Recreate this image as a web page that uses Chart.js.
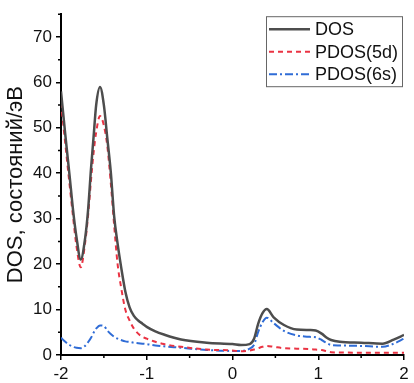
<!DOCTYPE html>
<html>
<head>
<meta charset="utf-8">
<script src="https://cdn.jsdelivr.net/npm/chart.js@4.4.1/dist/chart.umd.min.js"></script>
<style>
  html, body { margin: 0; padding: 0; background: #fff; }
  canvas { display: block; }
</style>
</head>
<body>
<canvas id="dosChart" width="414" height="383"></canvas>
<script>
// energy grid (eV)
const energy = [-2, -1.95, -1.9, -1.86, -1.82, -1.77, -1.72, -1.685, -1.65, -1.62, -1.59, -1.545, -1.5, -1.46, -1.42, -1.38, -1.34, -1.3, -1.25, -1.2, -1.15, -1.1, -1.05, -1.0, -0.9, -0.8, -0.6, -0.3, 0, 0.1, 0.2, 0.25, 0.3, 0.35, 0.4, 0.48, 0.6, 0.75, 0.9, 0.97, 1.04, 1.1, 1.15, 1.25, 1.5, 1.75, 1.88, 2.0];

const dosTotal = [58, 48.5, 39.5, 32, 26, 21, 25.5, 31.7, 41, 48, 55, 59, 55, 47.7, 40.4, 30.5, 24.5, 19.5, 14, 10.5, 8.6, 7.6, 6.9, 6.2, 5.2, 4.5, 3.4, 2.7, 2.4, 2.2, 2.4, 3.5, 6.9, 9.2, 10.1, 8.3, 6.6, 5.6, 5.5, 5.4, 4.7, 3.8, 3.3, 2.9, 2.7, 2.5, 3.4, 4.4];
const pdos5d = [55.5, 46.5, 37.5, 30.5, 24, 19.3, 24.5, 30.5, 38.5, 44.5, 49, 52.6, 50.5, 46, 38, 28.5, 20, 15, 10, 7.6, 5.8, 4.7, 4.0, 3.6, 2.9, 2.4, 1.8, 1.2, 1.0, 0.8, 1.0, 1.2, 1.5, 1.8, 2.0, 1.8, 1.5, 1.4, 1.3, 1.2, 1.1, 0.8, 0.6, 0.55, 0.5, 0.5, 0.5, 0.5];
const pdos6s = [3.8, 2.9, 2.2, 1.8, 1.6, 1.5, 2.0, 2.8, 3.8, 4.9, 5.8, 6.5, 6.4, 5.4, 4.6, 4.0, 3.6, 3.3, 3.0, 2.9, 2.7, 2.6, 2.5, 2.4, 2.1, 1.9, 1.6, 1.1, 0.9, 0.9, 1.4, 2.2, 5.1, 7.2, 8.2, 7.0, 5.3, 4.3, 4.0, 3.9, 3.3, 2.6, 2.2, 2.1, 2.0, 1.8, 2.5, 3.6];

const seriesLabels = ['DOS', 'PDOS(5d)', 'PDOS(6s)'];
const xTicks = [-2, -1, 0, 1, 2];
const yTicks = [0, 10, 20, 30, 40, 50, 60, 70];

const FONT = "'Liberation Sans', Arial, sans-serif";

function toPoints(vals) {
    return energy.map((e, i) => ({ x: e, y: vals[i] }));
}

// small ticks between the labelled ones
const minorTicks = {
    id: 'minorTicks',
    afterDraw(chart) {
        const ctx = chart.ctx;
        const xs = chart.scales.x, ys = chart.scales.y;
        ctx.save();
        ctx.strokeStyle = '#000';
        ctx.lineWidth = 1.5;
        ctx.beginPath();
        for (let i = 0; i < xTicks.length - 1; i++) {
            const px = xs.getPixelForValue((xTicks[i] + xTicks[i + 1]) / 2);
            ctx.moveTo(px, ys.bottom);
            ctx.lineTo(px, ys.bottom + 3);
        }
        for (let i = 0; i < yTicks.length; i++) {
            const v = yTicks[i] + 5;
            if (v > ys.max) continue;
            const py = ys.getPixelForValue(v);
            ctx.moveTo(xs.left, py);
            ctx.lineTo(xs.left - 3, py);
        }
        ctx.stroke();
        ctx.restore();
    }
};

// framed legend in the upper right corner
const boxLegend = {
    id: 'boxLegend',
    afterDraw(chart) {
        const ctx = chart.ctx;
        const area = chart.chartArea;
        const w = 136, h = 70;
        const left = area.right - 2 - w, top = area.top + 2;
        ctx.save();
        ctx.strokeStyle = '#666';
        ctx.lineWidth = 1;
        ctx.strokeRect(left + 0.5, top + 0.5, w, h);
        ctx.font = '18px ' + FONT;
        ctx.textBaseline = 'middle';
        chart.data.datasets.forEach((ds, i) => {
            const y = top + 13 + i * 22.5;
            ctx.strokeStyle = ds.borderColor;
            ctx.lineWidth = ds.borderWidth;
            ctx.setLineDash(ds.borderDash || []);
            ctx.beginPath();
            ctx.moveTo(left + 3, y);
            ctx.lineTo(left + 44, y);
            ctx.stroke();
            ctx.setLineDash([]);
            ctx.fillStyle = '#111';
            ctx.fillText(ds.label, left + 49, y + 1);
        });
        ctx.restore();
    }
};

new Chart(document.getElementById('dosChart'), {
    type: 'line',
    data: {
        datasets: [
            {
                label: seriesLabels[0],
                data: toPoints(dosTotal),
                borderColor: '#4d4d4d',
                borderWidth: 2.5,
                cubicInterpolationMode: 'monotone'
            },
            {
                label: seriesLabels[1],
                data: toPoints(pdos5d),
                borderColor: '#ea3343',
                borderWidth: 2,
                borderDash: [5, 4],
                cubicInterpolationMode: 'monotone'
            },
            {
                label: seriesLabels[2],
                data: toPoints(pdos6s),
                borderColor: '#2f6cd6',
                borderWidth: 2,
                borderDash: [8, 3, 2, 3],
                cubicInterpolationMode: 'monotone'
            }
        ]
    },
    options: {
        responsive: false,
        animation: false,
        layout: { padding: { top: 11, right: 10, left: 0, bottom: 0 } },
        elements: { point: { radius: 0 } },
        plugins: {
            legend: { display: false },
            tooltip: { enabled: false }
        },
        scales: {
            x: {
                type: 'linear',
                min: -2,
                max: 2,
                afterBuildTicks: s => { s.ticks = xTicks.map(v => ({ value: v })); },
                afterFit: s => { s.height = 28; },
                border: { color: '#000', width: 2 },
                grid: { drawOnChartArea: false, tickLength: 5, color: '#000', lineWidth: 1.5 },
                ticks: {
                    color: '#111',
                    padding: 4,
                    maxRotation: 0,
                    font: { family: FONT, size: 17 }
                }
            },
            y: {
                min: 0,
                max: 75,
                afterBuildTicks: s => { s.ticks = yTicks.map(v => ({ value: v })); },
                afterFit: s => { s.width = 61; },
                border: { color: '#000', width: 2 },
                grid: { drawOnChartArea: false, tickLength: 5, color: '#000', lineWidth: 1.5 },
                ticks: {
                    color: '#111',
                    padding: 4,
                    font: { family: FONT, size: 17 }
                },
                title: {
                    display: true,
                    text: 'DOS, состояний/эВ',
                    color: '#111',
                    padding: { top: 3, bottom: 0 },
                    font: { family: FONT, size: 22 }
                }
            }
        }
    },
    plugins: [minorTicks, boxLegend]
});
</script>
</body>
</html>
